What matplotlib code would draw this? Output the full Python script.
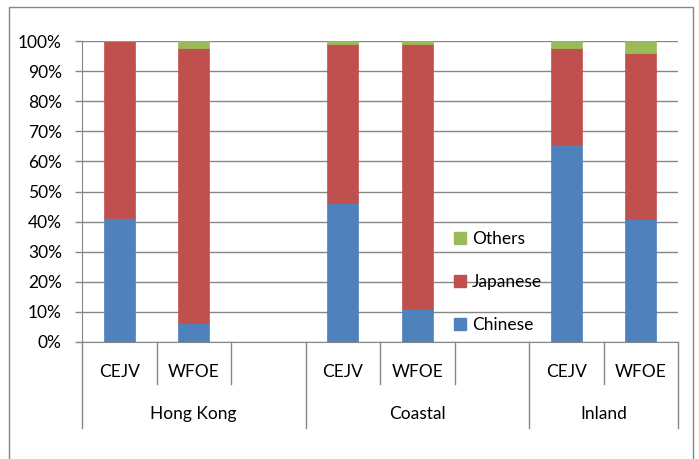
import matplotlib
matplotlib.use("Agg")
import matplotlib.pyplot as plt
from matplotlib.patches import Patch, Rectangle
import matplotlib.transforms as mtransforms

plt.rcParams['font.family'] = ['Lato', 'DejaVu Sans']

# Ownership shares (%) by region and entity type
groups = ["Hong Kong", "Coastal", "Inland"]
subtypes = ["CEJV", "WFOE"]
chinese = [41.3, 6.4, 46.1, 10.9, 65.4, 40.8]
japanese = [58.7, 91.4, 53.0, 88.2, 32.4, 55.3]
others = [0.0, 2.2, 0.9, 0.9, 2.2, 3.9]
series_names = ["Chinese", "Japanese", "Others"]
colors = ["#4F81BD", "#C0504D", "#9BBB59"]
yticks = list(range(0, 101, 10))

FS = 12.5

# Each region gets a block of three slots (last block has two), with a blank slot between regions
positions = []
group_spans = []
slot = 0
for gi, g in enumerate(groups):
    start = slot
    for si, s in enumerate(subtypes):
        positions.append(slot)
        slot += 1
    if gi < len(groups) - 1:
        slot += 1
    group_spans.append((start - 0.5, slot - 0.5))
n_slots = slot

W, H = 699, 459
fig = plt.figure(figsize=(W / 100, H / 100), dpi=100)
ax = fig.add_axes([82 / W, (H - 342) / H, (678 - 82) / W, (342 - 41) / H])

bw = 0.41
bottoms = [0.0] * len(positions)
for name, vals, c in zip(series_names, [chinese, japanese, others], colors):
    ax.bar(positions, vals, bw, bottom=bottoms, color=c, edgecolor=c,
           linewidth=0.5, label=name, zorder=3)
    bottoms = [b + v for b, v in zip(bottoms, vals)]

ax.set_xlim(-0.5, n_slots - 0.5)
ax.set_ylim(0, 100)
ax.set_yticks(yticks)
ax.set_yticklabels([f"{t}%" for t in yticks], fontsize=FS, color="#000000")
ax.tick_params(axis='y', length=5, width=1, color="#868686", pad=9.5)
ax.tick_params(axis='x', length=0, labelbottom=False)
ax.yaxis.grid(True, color="#868686", linewidth=1, zorder=0)
for sp in ["top", "right"]:
    ax.spines[sp].set_visible(False)
ax.spines["left"].set_color("#868686")
ax.spines["bottom"].set_color("#868686")
ax.set_axisbelow(True)

# Two-level category axis
trans = mtransforms.blended_transform_factory(ax.transData, ax.transAxes)
inner_bottom = -0.1395
outer_bottom = -0.2857
line_kw = dict(color="#868686", linewidth=1, transform=trans, clip_on=False)
for b in range(n_slots + 1):
    x = b - 0.5
    is_group_edge = any(abs(x - s) < 1e-9 or abs(x - e) < 1e-9 for s, e in group_spans)
    ax.plot([x, x], [0, outer_bottom if is_group_edge else inner_bottom], **line_kw)
for p, label in zip(positions, subtypes * len(groups)):
    ax.text(p, -0.1, label, transform=trans, ha="center", va="center", fontsize=FS)
for (s, e), g in zip(group_spans, groups):
    ax.text((s + e) / 2, -0.24, g, transform=trans, ha="center", va="center", fontsize=FS)

# Legend, listed top to bottom as Others, Japanese, Chinese
handles = [Patch(facecolor=c, edgecolor=c) for c in colors][::-1]
ax.legend(handles, series_names[::-1], loc="center left", bbox_to_anchor=(0.612, 0.2),
          frameon=False, fontsize=FS, handlelength=0.7, handleheight=0.7,
          handletextpad=0.35, labelspacing=1.55, borderaxespad=0)

# Chart area border
fig.patches.append(Rectangle((9 / W, -0.05), (693 - 9) / W, (H - 7) / H + 0.05,
                             transform=fig.transFigure, fill=False,
                             edgecolor="#868686", linewidth=1))

fig.savefig("out.png", dpi=100)
